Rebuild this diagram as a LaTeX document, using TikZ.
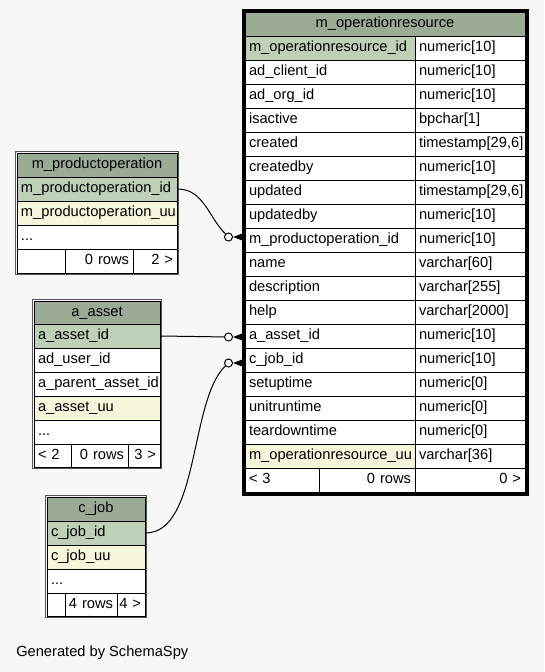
\documentclass[tikz,border=0pt]{standalone}
\usepackage{fontspec}
\setmainfont{Liberation Sans}
\usetikzlibrary{calc}
\definecolor{bg}{HTML}{F7F7F7}
\definecolor{hdr}{HTML}{9BAB96}
\definecolor{pk}{HTML}{BED1B8}
\definecolor{uu}{HTML}{F4F7DA}
\definecolor{edge}{HTML}{555555}
\tikzset{
  cellbase/.style={draw=black, line width=0.75pt, inner xsep=3pt, inner ysep=0pt,
    text height=8pt, text depth=2.4pt, font=\fontsize{11}{13}\selectfont},
  tableframe/.style={draw=edge, line width=0.75pt},
  selframe/.style={draw=black, line width=2.25pt},
  conn/.style={draw=black, line width=0.75pt},
  endcirc/.style={circle, draw=black, fill=white, line width=0.75pt, inner sep=0pt, minimum size=6pt},
  crow/.style={fill=black},
}
% align (l/c/r), name, x1, y1, x2, y2, fill, text
\newcommand\tcell[8]{%
  \pgfmathsetlengthmacro\cellTW{(#5-#3)*0.75pt-6pt}%
  \pgfmathsetlengthmacro\cellMH{(#6-#4)*0.75pt}%
  \node[cellbase, fill=#7, text width=\cellTW, minimum height=\cellMH] (#2) at ({(#3+#5)/2},{(#4+#6)/2}) {\makebox[\cellTW][#1]{#8}};%
}
\begin{document}
\begin{tikzpicture}[x=0.75pt, y=-0.75pt]
\fill[bg] (0,0) rectangle (544,672);
\useasboundingbox (0,0) rectangle (544,672);

% ---------- m_operationresource ----------
\tcell{c}{mor-hdr}{245}{12}{525}{36}{hdr}{m\_operationresource}
\tcell{l}{mor-id}{245}{36}{415}{60}{pk}{m\_operationresource\_id}
\tcell{l}{mor-id-t}{415}{36}{525}{60}{white}{numeric[10]}
\tcell{l}{mor-cl}{245}{60}{415}{84}{white}{ad\_client\_id}
\tcell{l}{mor-cl-t}{415}{60}{525}{84}{white}{numeric[10]}
\tcell{l}{mor-org}{245}{84}{415}{108}{white}{ad\_org\_id}
\tcell{l}{mor-org-t}{415}{84}{525}{108}{white}{numeric[10]}
\tcell{l}{mor-act}{245}{108}{415}{132}{white}{isactive}
\tcell{l}{mor-act-t}{415}{108}{525}{132}{white}{bpchar[1]}
\tcell{l}{mor-cr}{245}{132}{415}{156}{white}{created}
\tcell{l}{mor-cr-t}{415}{132}{525}{156}{white}{timestamp[29,6]}
\tcell{l}{mor-crb}{245}{156}{415}{180}{white}{createdby}
\tcell{l}{mor-crb-t}{415}{156}{525}{180}{white}{numeric[10]}
\tcell{l}{mor-up}{245}{180}{415}{204}{white}{updated}
\tcell{l}{mor-up-t}{415}{180}{525}{204}{white}{timestamp[29,6]}
\tcell{l}{mor-upb}{245}{204}{415}{228}{white}{updatedby}
\tcell{l}{mor-upb-t}{415}{204}{525}{228}{white}{numeric[10]}
\tcell{l}{mor-po}{245}{228}{415}{252}{white}{m\_productoperation\_id}
\tcell{l}{mor-po-t}{415}{228}{525}{252}{white}{numeric[10]}
\tcell{l}{mor-nm}{245}{252}{415}{276}{white}{name}
\tcell{l}{mor-nm-t}{415}{252}{525}{276}{white}{varchar[60]}
\tcell{l}{mor-ds}{245}{276}{415}{300}{white}{description}
\tcell{l}{mor-ds-t}{415}{276}{525}{300}{white}{varchar[255]}
\tcell{l}{mor-hp}{245}{300}{415}{324}{white}{help}
\tcell{l}{mor-hp-t}{415}{300}{525}{324}{white}{varchar[2000]}
\tcell{l}{mor-as}{245}{324}{415}{348}{white}{a\_asset\_id}
\tcell{l}{mor-as-t}{415}{324}{525}{348}{white}{numeric[10]}
\tcell{l}{mor-cj}{245}{348}{415}{372}{white}{c\_job\_id}
\tcell{l}{mor-cj-t}{415}{348}{525}{372}{white}{numeric[10]}
\tcell{l}{mor-su}{245}{372}{415}{396}{white}{setuptime}
\tcell{l}{mor-su-t}{415}{372}{525}{396}{white}{numeric[0]}
\tcell{l}{mor-ur}{245}{396}{415}{420}{white}{unitruntime}
\tcell{l}{mor-ur-t}{415}{396}{525}{420}{white}{numeric[0]}
\tcell{l}{mor-td}{245}{420}{415}{444}{white}{teardowntime}
\tcell{l}{mor-td-t}{415}{420}{525}{444}{white}{numeric[0]}
\tcell{l}{mor-uu}{245}{444}{415}{468}{uu}{m\_operationresource\_uu}
\tcell{l}{mor-uu-t}{415}{444}{525}{468}{white}{varchar[36]}
\tcell{l}{mor-f1}{245}{468}{319}{492}{white}{< 3}
\tcell{r}{mor-f2}{319}{468}{415}{492}{white}{0 rows}
\tcell{r}{mor-f3}{415}{468}{525}{492}{white}{0 >}
\draw[selframe] (mor-hdr.north west) ++(-1.5,-1.5) rectangle ($(mor-f3.south east)+(1.5,1.5)$);

% ---------- m_productoperation ----------
\tcell{c}{po-hdr}{17}{153}{177}{177}{hdr}{m\_productoperation}
\tcell{l}{po-id}{17}{177}{177}{201}{pk}{m\_productoperation\_id}
\tcell{l}{po-uu}{17}{201}{177}{225}{uu}{m\_productoperation\_uu}
\tcell{l}{po-more}{17}{225}{177}{249}{white}{...}
\tcell{l}{po-f1}{17}{249}{65}{273}{white}{}
\tcell{r}{po-f2}{65}{249}{133}{273}{white}{0 rows}
\tcell{r}{po-f3}{133}{249}{177}{273}{white}{2 >}
\draw[tableframe] ($(po-hdr.north west)+(-1,-1)$) rectangle ($(po-f3.south east)+(1,1)$);

% ---------- a_asset ----------
\tcell{c}{as-hdr}{34}{301}{160}{324}{hdr}{a\_asset}
\tcell{l}{as-id}{34}{324}{160}{348}{pk}{a\_asset\_id}
\tcell{l}{as-us}{34}{348}{160}{372}{white}{ad\_user\_id}
\tcell{l}{as-par}{34}{372}{160}{396}{white}{a\_parent\_asset\_id}
\tcell{l}{as-uu}{34}{396}{160}{420}{uu}{a\_asset\_uu}
\tcell{l}{as-more}{34}{420}{160}{444}{white}{...}
\tcell{l}{as-f1}{34}{444}{71}{467}{white}{< 2}
\tcell{r}{as-f2}{71}{444}{128}{467}{white}{0 rows}
\tcell{r}{as-f3}{128}{444}{160}{467}{white}{3 >}
\draw[tableframe] ($(as-hdr.north west)+(-1,-1)$) rectangle ($(as-f3.south east)+(1,1)$);

% ---------- c_job ----------
\tcell{c}{cj-hdr}{47}{497}{145}{521}{hdr}{c\_job}
\tcell{l}{cj-id}{47}{521}{145}{545}{pk}{c\_job\_id}
\tcell{l}{cj-uu}{47}{545}{145}{569}{uu}{c\_job\_uu}
\tcell{l}{cj-more}{47}{569}{145}{593}{white}{...}
\tcell{l}{cj-f1}{47}{593}{65}{616}{white}{}
\tcell{r}{cj-f2}{65}{593}{117}{616}{white}{4 rows}
\tcell{r}{cj-f3}{117}{593}{145}{616}{white}{4 >}
\draw[tableframe] ($(cj-hdr.north west)+(-1,-1)$) rectangle ($(cj-f3.south east)+(1,1)$);

% ---------- connectors ----------
\node[endcirc] (k1) at ($(mor-po.west)+(-16,-3)$) {};
\node[endcirc] (k2) at ($(mor-as.west)+(-16,1)$) {};
\node[endcirc] (k3) at ($(mor-cj.west)+(-16,3)$) {};

\draw[conn] (po-id.east) .. controls +(26,0) and +(-20,-20) .. (k1);
\draw[conn] (as-id.east) -- (k2);
\draw[conn] (cj-id.east) .. controls +(54,0) and +(-39,37) .. (k3);

\foreach \k/\t in {k1/mor-po, k2/mor-as, k3/mor-cj}{
  \fill[crow] (\k.east) -- ($(\k.east -| \t.west)+(-1,-4)$) -- ($(\k.east -| \t.west)+(-1,4)$) -- cycle;
}

\node[anchor=base west, inner sep=0pt, font=\fontsize{11}{13}\selectfont] (gen) at (16,656) {Generated by SchemaSpy};
\end{tikzpicture}
\end{document}
